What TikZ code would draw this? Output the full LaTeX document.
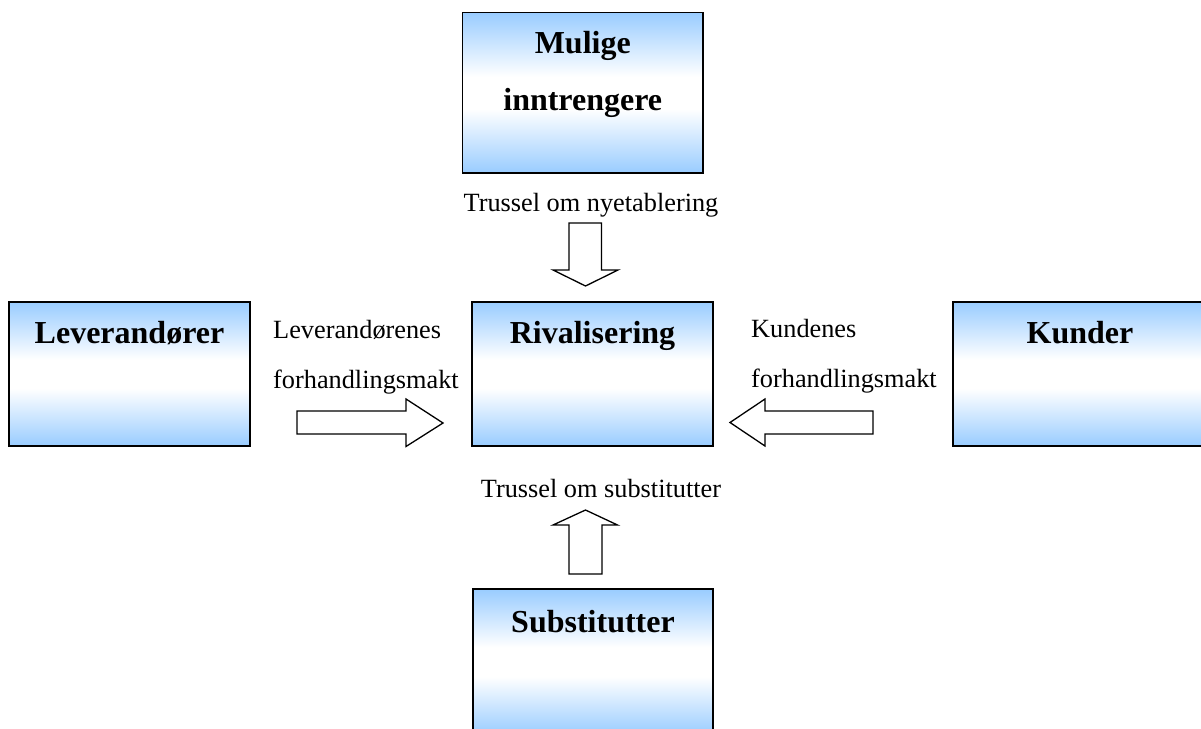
\documentclass[tikz,border=0pt]{standalone}
\usepackage{fontspec}
\setmainfont{Liberation Serif}
\definecolor{boxblue}{RGB}{153,204,255}
% blue at top and bottom, white band across the middle
\pgfdeclareverticalshading{forceshade}{100bp}{%
  color(0bp)=(boxblue); color(25bp)=(boxblue);
  color(45bp)=(white); color(55bp)=(white);
  color(75bp)=(boxblue); color(100bp)=(boxblue)}
\begin{document}
\begin{tikzpicture}[x=1pt,y=-1pt,
  forcebox/.style={draw=black, line width=1.6pt, shading=forceshade,
    rectangle, inner sep=0pt, minimum width=241pt, minimum height=144pt},
  boxtitle/.style={anchor=base, inner sep=0pt,
    font=\fontsize{32}{38}\selectfont\bfseries},
  forcelabel/.style={inner sep=0pt, font=\fontsize{26.3}{30}\selectfont},
  blockarrow/.style={draw=black, line width=1.3pt, fill=white, line join=miter}]
\useasboundingbox (0,0) rectangle (1201,728);
\clip (0,0) rectangle (1201,728);

% the five forces
\node[forcebox, minimum width=240.5pt, minimum height=160.5pt] (mul) at (582.75,92.75) {};
\node[forcebox] (lev) at (129.5,374) {};
\node[forcebox] (riv) at (592.5,374) {};
\node[forcebox, minimum width=257pt] (kun) at (1081.5,374) {};
\node[forcebox, minimum width=240pt, minimum height=146pt] (sub) at (593,662) {};

% box titles
\node[boxtitle] (mulA) at (582.75,53) {Mulige};
\node[boxtitle] (mulB) at (582.75,110) {inntrengere};
\node[boxtitle] (levT) at (129.5,343) {Leverandører};
\node[boxtitle] (rivT) at (592.5,343) {Rivalisering};
\node[boxtitle] (kunT) at (1080,343) {Kunder};
\node[boxtitle] (subT) at (593,632) {Substitutter};

% labels beside the arrows
\node[forcelabel, anchor=base] (nyL) at (591,211) {Trussel om nyetablering};
\node[forcelabel, anchor=base] (subL) at (601,497) {Trussel om substitutter};
\node[forcelabel, anchor=base west] (levL1) at (273,338) {Leverandørenes};
\node[forcelabel, anchor=base west] (levL2) at (273,388) {forhandlingsmakt};
\node[forcelabel, anchor=base west] (kunL1) at (751,337) {Kundenes};
\node[forcelabel, anchor=base west] (kunL2) at (751,387) {forhandlingsmakt};

% block arrows pointing at the rivalry box
\draw[blockarrow] (569,223) -- (601.5,223) -- (601.5,270) -- (618,270)
  -- (585.5,286) -- (553,270) -- (569,270) -- cycle;
\draw[blockarrow] (569,574) -- (602,574) -- (602,525) -- (617.5,525)
  -- (585.5,510) -- (553,525) -- (569,525) -- cycle;
\draw[blockarrow] (297,411) -- (406,411) -- (406,399) -- (443,423)
  -- (406,446.5) -- (406,434) -- (297,434) -- cycle;
\draw[blockarrow] (873,411) -- (765,411) -- (765,399) -- (730,422.5)
  -- (765,446) -- (765,434) -- (873,434) -- cycle;
\end{tikzpicture}
\end{document}
